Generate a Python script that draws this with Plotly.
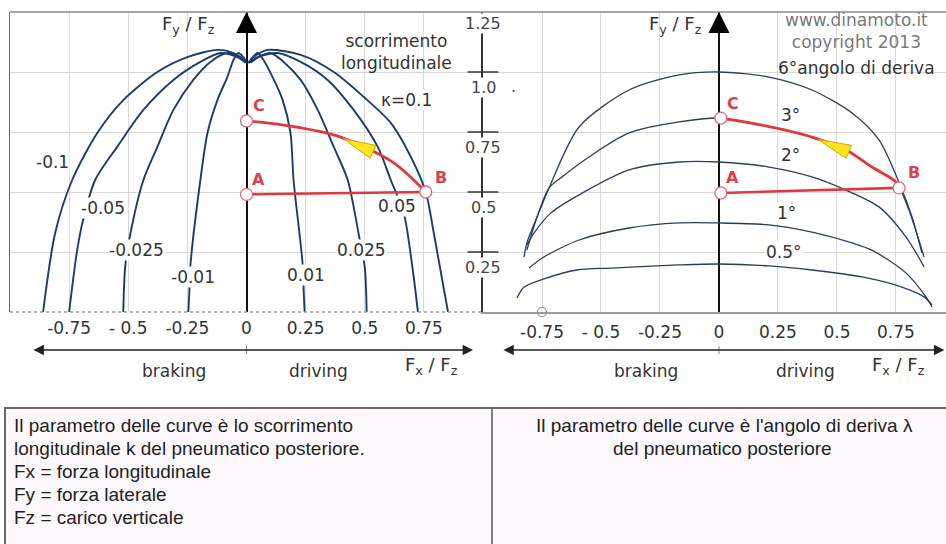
import numpy as np
import plotly.graph_objects as go

W, H = 946, 544

# ---------------------------------------------------------------
# Left panel: Fy/Fz vs Fx/Fz at constant longitudinal slip k
# ---------------------------------------------------------------
k_neg_010_fx = [-0.860, -0.809, -0.737, -0.631, -0.521, -0.377, -0.250, -0.123, -0.055, -0.004]
k_neg_010_fy = [0.000, 0.329, 0.550, 0.746, 0.883, 1.000, 1.062, 1.092, 1.079, 1.042]
k_neg_005_fx = [-0.750, -0.716, -0.691, -0.640, -0.547, -0.436, -0.309, -0.195, -0.110, -0.038, -0.004]
k_neg_005_fy = [0.000, 0.258, 0.383, 0.550, 0.688, 0.842, 0.967, 1.042, 1.079, 1.062, 1.038]
k_neg_0025_fx = [-0.521, -0.513, -0.492, -0.436, -0.377, -0.309, -0.225, -0.153, -0.081, -0.025, 0.000]
k_neg_0025_fy = [0.000, 0.188, 0.321, 0.550, 0.688, 0.842, 0.967, 1.042, 1.079, 1.062, 1.038]
k_neg_001_fx = [-0.246, -0.242, -0.237, -0.195, -0.165, -0.123, -0.081, -0.055, -0.034, -0.004]
k_neg_001_fy = [0.000, 0.079, 0.196, 0.550, 0.746, 0.883, 0.979, 1.050, 1.079, 1.050]
k_pos_001_fx = [0.246, 0.242, 0.237, 0.199, 0.186, 0.153, 0.110, 0.072, 0.047, 0.017]
k_pos_001_fy = [0.000, 0.079, 0.204, 0.550, 0.746, 0.883, 0.979, 1.050, 1.079, 1.050]
k_pos_0025_fx = [0.508, 0.500, 0.475, 0.428, 0.369, 0.301, 0.229, 0.157, 0.102, 0.047, 0.008]
k_pos_0025_fy = [0.000, 0.188, 0.321, 0.550, 0.688, 0.842, 0.967, 1.042, 1.079, 1.062, 1.038]
k_pos_005_fx = [0.725, 0.703, 0.665, 0.610, 0.555, 0.453, 0.343, 0.229, 0.131, 0.051, 0.017]
k_pos_005_fy = [0.000, 0.175, 0.413, 0.550, 0.688, 0.842, 0.967, 1.042, 1.079, 1.062, 1.038]
k_pos_010_fx = [0.852, 0.792, 0.758, 0.695, 0.610, 0.496, 0.369, 0.229, 0.089, 0.030, 0.008]
k_pos_010_fy = [0.000, 0.329, 0.500, 0.646, 0.788, 0.896, 1.000, 1.071, 1.092, 1.062, 1.038]

slip_labels = ["-0.1", "-0.05", "-0.025", "-0.01", "0.01", "0.025", "0.05", "κ=0.1"]

# path C -> B on the left chart
left_cb_fx = [0.000, 0.157, 0.369, 0.496, 0.623, 0.758]
left_cb_fy = [0.796, 0.779, 0.738, 0.688, 0.621, 0.500]

# ---------------------------------------------------------------
# Right panel: Fy/Fz vs Fx/Fz at constant slip angle
# ---------------------------------------------------------------
a_6_fx = [-0.826, -0.814, -0.771, -0.720, -0.593, -0.381, -0.169, 0.000, 0.212, 0.394, 0.564, 0.678, 0.763, 0.818, 0.860]
a_6_fy = [0.229, 0.288, 0.396, 0.517, 0.771, 0.925, 0.988, 1.000, 0.979, 0.925, 0.829, 0.717, 0.540, 0.396, 0.246]
a_3_fx = [-0.814, -0.771, -0.720, -0.665, -0.551, -0.381, -0.169, 0.008, 0.182, 0.394, 0.538, 0.648, 0.750, 0.805, 0.847, 0.869]
a_3_fy = [0.258, 0.396, 0.517, 0.563, 0.646, 0.746, 0.792, 0.808, 0.779, 0.729, 0.675, 0.604, 0.542, 0.425, 0.300, 0.229]
a_2_fx = [-0.814, -0.784, -0.712, -0.593, -0.381, -0.169, 0.000, 0.212, 0.394, 0.538, 0.678, 0.792, 0.869]
a_2_fy = [0.279, 0.329, 0.413, 0.488, 0.592, 0.625, 0.625, 0.604, 0.563, 0.508, 0.438, 0.313, 0.188]
a_1_fx = [-0.805, -0.742, -0.593, -0.381, -0.169, 0.000, 0.212, 0.394, 0.564, 0.648, 0.792, 0.877, 0.903]
a_1_fy = [0.183, 0.229, 0.300, 0.350, 0.371, 0.371, 0.363, 0.333, 0.288, 0.258, 0.163, 0.063, 0.021]
a_05_fx = [-0.856, -0.826, -0.742, -0.602, -0.453, -0.169, 0.000, 0.212, 0.394, 0.606, 0.775, 0.869, 0.903]
a_05_fy = [0.058, 0.104, 0.138, 0.175, 0.183, 0.196, 0.200, 0.192, 0.175, 0.146, 0.104, 0.063, 0.029]

drift_labels = ["3°", "2°", "1°", "0.5°"]

right_cb_fx = [0.008, 0.182, 0.394, 0.538, 0.648, 0.750, 0.763]
right_cb_fy = [0.808, 0.779, 0.729, 0.675, 0.604, 0.542, 0.517]

# operating points A, B, C
point_names = ["A", "B", "C"]
left_pts_fx = [0.000, 0.758, 0.000]
left_pts_fy = [0.490, 0.500, 0.796]
right_pts_fx = [0.008, 0.763, 0.008]
right_pts_fy = [0.496, 0.517, 0.808]

# axis ticks
fx_tickvals = [-0.75, -0.5, -0.25, 0, 0.25, 0.5, 0.75]
fx_ticktext = ["-0.75", "- 0.5", "-0.25", "0", "0.25", "0.5", "0.75"]
fy_tickvals = [0.25, 0.5, 0.75, 1.0, 1.25]
fy_ticktext = ["0.25", "0.5", "0.75", "1.0", "1.25"]

# ---------------------------------------------------------------
FONT = "DejaVu Sans"
TXT = "#333333"
CURVE_L = "#1f3b6b"
CURVE_R = "#2b3d5e"
RED = "#e2383c"
RED_TXT = "#e0404c"
GRID = "#d9d9d9"

# pixel size of one axis unit (both panels share the same scale)
PX_X = (483 - 10) / 2.0
PX_Y = 300 / 1.25


def px(x):
    return x / W


def py(y):
    return 1 - y / H


def wedge(path_x, path_y, x_tip, x_base, half_px=7):
    """Yellow direction mark lying along a path: thin tip, wide base."""
    y_tip = float(np.interp(x_tip, path_x, path_y))
    y_base = float(np.interp(x_base, path_x, path_y))
    dx, dy = (x_base - x_tip) * PX_X, (y_base - y_tip) * PX_Y
    n = np.hypot(dx, dy)
    nx, ny = -dy / n * half_px / PX_X, dx / n * half_px / PX_Y
    xs = [x_tip, x_base + nx, x_base - nx, x_tip]
    ys = [y_tip, y_base + ny, y_base - ny, y_tip]
    return xs, ys


slip_curves = [
    (k_neg_010_fx, k_neg_010_fy), (k_neg_005_fx, k_neg_005_fy),
    (k_neg_0025_fx, k_neg_0025_fy), (k_neg_001_fx, k_neg_001_fy),
    (k_pos_001_fx, k_pos_001_fy), (k_pos_0025_fx, k_pos_0025_fy),
    (k_pos_005_fx, k_pos_005_fy), (k_pos_010_fx, k_pos_010_fy),
]
slip_label_xy = [(-0.822, 0.625), (-0.606, 0.433), (-0.466, 0.258), (-0.225, 0.146),
                 (0.250, 0.154), (0.487, 0.258), (0.636, 0.440), (0.678, 0.883)]

drift_curves = [(a_6_fx, a_6_fy), (a_3_fx, a_3_fy), (a_2_fx, a_2_fy),
                (a_1_fx, a_1_fy), (a_05_fx, a_05_fy)]
drift_label_xy = [(0.305, 0.821), (0.305, 0.654), (0.288, 0.413), (0.275, 0.250)]

fig = go.Figure()

for fx, fy in slip_curves:
    fig.add_trace(go.Scatter(x=fx, y=fy, mode="lines", xaxis="x", yaxis="y",
                             line=dict(color=CURVE_L, width=1.9, shape="spline", smoothing=0.8),
                             hoverinfo="skip", showlegend=False))

for fx, fy in drift_curves:
    fig.add_trace(go.Scatter(x=fx, y=fy, mode="lines", xaxis="x2", yaxis="y2",
                             line=dict(color=CURVE_R, width=1.3, shape="spline", smoothing=0.8),
                             hoverinfo="skip", showlegend=False))

# red paths A-B and C-B, yellow direction marks, then the points
for xa, ya, pfx, pfy, cbx, cby, tip, base in [
        ("x", "y", left_pts_fx, left_pts_fy, left_cb_fx, left_cb_fy, 0.41, 0.535),
        ("x2", "y2", right_pts_fx, right_pts_fy, right_cb_fx, right_cb_fy, 0.42, 0.55)]:
    fig.add_trace(go.Scatter(x=pfx[:2], y=pfy[:2], mode="lines", xaxis=xa, yaxis=ya,
                             line=dict(color=RED, width=2.6), hoverinfo="skip", showlegend=False))
    fig.add_trace(go.Scatter(x=cbx, y=cby, mode="lines", xaxis=xa, yaxis=ya,
                             line=dict(color=RED, width=2.8, shape="spline"),
                             hoverinfo="skip", showlegend=False))
    wx, wy = wedge(cbx, cby, tip, base)
    fig.add_trace(go.Scatter(x=wx, y=wy, mode="lines", fill="toself", xaxis=xa, yaxis=ya,
                             fillcolor="#ffe61c", line=dict(color="#d7a300", width=1),
                             hoverinfo="skip", showlegend=False))
    fig.add_trace(go.Scatter(x=pfx, y=pfy, mode="markers", xaxis=xa, yaxis=ya, cliponaxis=False,
                             marker=dict(symbol="circle", size=12, color="white",
                                         line=dict(color="#e06a78", width=1.3)),
                             hoverinfo="skip", showlegend=False))

# Fy axis arrowheads
for xa, ya in [("x", "y"), ("x2", "y2")]:
    fig.add_trace(go.Scatter(x=[0], y=[1.25], mode="markers", xaxis=xa, yaxis=ya, cliponaxis=False,
                             marker=dict(symbol="arrow-up", size=21, color="black"),
                             hoverinfo="skip", showlegend=False))

# crossing ticks on the middle Fy scale
fig.add_trace(go.Scatter(x=[-1] * 4, y=fy_tickvals[:4], mode="markers", xaxis="x2", yaxis="y2",
                         cliponaxis=False,
                         marker=dict(symbol="line-ew", size=22, line=dict(color="#333", width=1.5)),
                         hoverinfo="skip", showlegend=False))
# small hollow marker on the right baseline
fig.add_trace(go.Scatter(x=[-0.75], y=[0], mode="markers", xaxis="x2", yaxis="y2", cliponaxis=False,
                         marker=dict(symbol="circle", size=9, color="white",
                                     line=dict(color="#888", width=1.2)),
                         hoverinfo="skip", showlegend=False))

y_dom = [py(312), py(12)]
axis_common = dict(showgrid=True, gridcolor=GRID, gridwidth=1, ticks="",
                   tickfont=dict(family=FONT, size=17, color=TXT))
fig.update_layout(
    width=W, height=H, margin=dict(l=0, r=0, t=0, b=0),
    paper_bgcolor="white", plot_bgcolor="white", showlegend=False,
    xaxis=dict(domain=[px(10), px(483)], range=[-1, 1], anchor="y",
               tickvals=fx_tickvals, ticktext=fx_ticktext, zeroline=True, ticklabelstandoff=4,
               zerolinecolor="#111", zerolinewidth=1.6, showline=False, **axis_common),
    yaxis=dict(domain=y_dom, range=[0, 1.25], anchor="x", tickvals=fy_tickvals[:4],
               showticklabels=False, zeroline=False, showline=True, linecolor="#666",
               linewidth=1.3, **axis_common),
    xaxis2=dict(domain=[px(483), 1], range=[-1, 0.962], anchor="y2", ticklabelstandoff=4,
                tickvals=fx_tickvals, ticktext=fx_ticktext, zeroline=True,
                zerolinecolor="#111", zerolinewidth=1.6, showline=True, linecolor="#999",
                linewidth=1.5, **axis_common),
    yaxis2=dict(domain=y_dom, range=[0, 1.25], anchor="x2", tickvals=fy_tickvals[:4],
                showticklabels=False, zeroline=False, showline=True, linecolor="#333",
                linewidth=1.5, **axis_common),
)

shapes = [
    # top frame line and dotted baseline on the left chart
    dict(type="line", xref="paper", yref="paper", x0=px(10), x1=1, y0=py(12), y1=py(12),
         line=dict(color="#8a8a8a", width=1.5)),
    dict(type="line", xref="paper", yref="paper", x0=px(10), x1=px(483), y0=py(312), y1=py(312),
         line=dict(color="#9a9a9a", width=1.5, dash="dot")),
    # notes box
    dict(type="rect", xref="paper", yref="paper", x0=px(5), x1=1.01, y0=-0.01, y1=py(408),
         fillcolor="#fdf8fc", line=dict(color="#6a6a6a", width=2), layer="below"),
    dict(type="line", xref="paper", yref="paper", x0=px(492), x1=px(492), y0=-0.01, y1=py(408),
         line=dict(color="#555", width=1.5)),
]
for xr in ["x", "x2"]:
    shapes.append(dict(type="line", xref=xr, yref="paper", x0=0, x1=0, y0=py(354), y1=py(346),
                       line=dict(color="#888", width=1)))
fig.update_layout(shapes=shapes)

ann = []


def label(text, x, y, xref="paper", yref="paper", size=17, color=TXT, xanchor="center",
          bg=None, family=FONT, **kw):
    d = dict(text=text, x=x, y=y, xref=xref, yref=yref, showarrow=False, xanchor=xanchor,
             yanchor="middle", font=dict(family=family, size=size, color=color), **kw)
    if bg:
        d["bgcolor"] = bg
        d["borderpad"] = 0
    ann.append(d)


# curve labels, on white patches that interrupt the curves
for t, (lx, ly) in zip(slip_labels, slip_label_xy):
    label(t, lx, ly, xref="x", yref="y", bg="white")
for t, (lx, ly) in zip(drift_labels, drift_label_xy):
    label(t, lx, ly, xref="x2", yref="y2", bg="white")

# point labels
for xa, ya, pfx, pfy in [("x", "y", left_pts_fx, left_pts_fy), ("x2", "y2", right_pts_fx, right_pts_fy)]:
    for n, fx, fy in zip(point_names, pfx, pfy):
        label("<b>%s</b>" % n, fx, fy, xref=xa, yref=ya, size=16, color=RED_TXT,
              xshift=15 if n == "B" else 12, yshift=15)

# middle Fy scale labels
for v, t in zip(fy_tickvals, fy_ticktext):
    label(t, -1, v, xref="x2", yref="y2", size=16, color="#444", bg="white",
          yshift=-11 if v == 1.25 else -15)
label(".", px(513), py(86), size=16, color="#444")

# axis titles
label("F<sub>y</sub> / F<sub>z</sub>", px(188), py(25), size=18)
label("F<sub>y</sub> / F<sub>z</sub>", px(675), py(25), size=18)
label("scorrimento<br>longitudinale", px(396), py(52), size=17)
label("www.dinamoto.it<br>copyright 2013", px(783), py(31), size=17, color="#7a7a7a",
      xanchor="left")
label("6°angolo di deriva", px(776), py(68), size=17, xanchor="left")

# Fx axes with braking / driving
for xr, x_lo, x_hi in [("x", -0.907, 0.958), ("x2", -0.92, 0.955)]:
    ann.append(dict(text="", x=x_hi, y=py(350), xref=xr, yref="paper", ax=x_lo, ay=0,
                    axref=xr, ayref="pixel", showarrow=True, arrowhead=2, arrowside="end+start",
                    arrowsize=1.6, arrowwidth=1.3, arrowcolor="#222"))
for xc, t in [(174, "braking"), (318, "driving"), (646, "braking"), (805, "driving")]:
    label(t, px(xc), py(371), size=17)
label("F<sub>x</sub> / F<sub>z</sub>", px(431), py(366), size=18)
label("F<sub>x</sub> / F<sub>z</sub>", px(898), py(366), size=18)

# notes
NOTE_FONT = "Liberation Sans"
notes_left = ["Il parametro delle curve è lo scorrimento",
              "longitudinale k del pneumatico posteriore.",
              "Fx = forza longitudinale",
              "Fy = forza laterale",
              "Fz = carico verticale"]
for i, t in enumerate(notes_left):
    label(t, px(12), py(425 + 23 * i), size=19, color="#222", xanchor="left", family=NOTE_FONT)
label("Il parametro delle curve è l'angolo di deriva λ", px(724), py(425), size=19,
      color="#222", family=NOTE_FONT)
label("del pneumatico posteriore", px(722), py(448), size=19, color="#222", family=NOTE_FONT)

fig.update_layout(annotations=ann)
fig.write_html("out.html")
